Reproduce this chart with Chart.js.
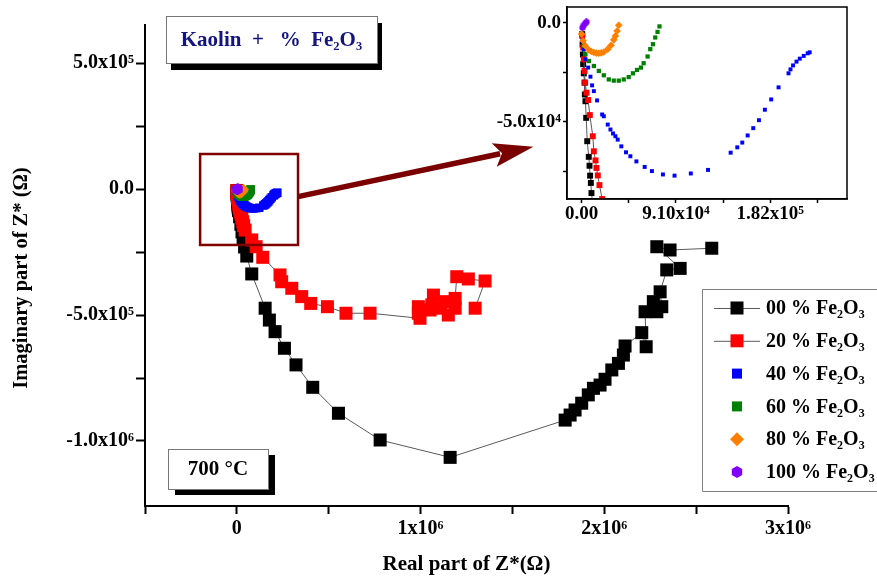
<!DOCTYPE html>
<html>
<head>
<meta charset="utf-8">
<script src="https://cdn.jsdelivr.net/npm/chart.js@4.4.0/dist/chart.umd.min.js"></script>
<style>
  html, body { margin: 0; padding: 0; background: #fff; }
  #wrap { position: relative; width: 877px; height: 581px; overflow: hidden; }
  #main { position: absolute; left: 0; top: 0; }
  #inset { position: absolute; left: 470px; top: 0; }
</style>
</head>
<body>
<div id="wrap">
  <canvas id="main" width="877" height="581"></canvas>
  <canvas id="inset" width="400" height="230"></canvas>
</div>
<script>
// series labels
var labels = ['00 % Fe\u2082O\u2083', '20 % Fe\u2082O\u2083', '40 % Fe\u2082O\u2083',
              '60 % Fe\u2082O\u2083', '80 % Fe\u2082O\u2083', '100 % Fe\u2082O\u2083'];

// real / imaginary parts (ohm)
var re00 = [700, 1000, 1300, 1600, 2200, 2900, 3200, 3800, 4500, 5500, 7000, 7700, 8300, 9000, 9600,
            15000, 22000, 28000, 34000, 42000, 54000, 81000, 154000, 177000, 208000, 259000, 322000,
            413000, 553000, 780000, 1161000, 1787000, 1814000, 1841000, 1877000, 1913000, 1941000,
            1977000, 2004000, 2041000, 2077000, 2104000, 2113000, 2204000, 2228000, 2222000, 2286000,
            2267000, 2313000, 2304000, 2340000, 2413000, 2286000, 2358000, 2585000];
var im00 = [-5700, -11000, -16000, -20900, -25500, -30200, -36200, -39600, -48000, -59800, -67700, -72200, -77200, -80900, -86000,
            -110000, -140000, -170000, -200000, -230000, -266000, -337000, -473000, -520000, -566000, -632000, -698000,
            -787000, -890000, -996000, -1065000, -917000, -897000, -877000, -850000, -817000, -791000,
            -778000, -755000, -718000, -692000, -659000, -623000, -570000, -626000, -487000, -487000,
            -447000, -467000, -408000, -321000, -315000, -229000, -242000, -235000];

var re20 = [700, 1600, 2200, 2900, 3500, 4800, 6400, 8000, 10900, 11900, 13500, 14400, 15700, 17300, 19900,
            23000, 27000, 32000, 37000, 45000, 81000, 105000, 141000, 235000, 244000, 299000, 353000, 402000,
            493000, 594000, 725000, 997000, 988000, 988000, 1052000, 1061000, 1070000, 1106000, 1133000,
            1151000, 1188000, 1188000, 1197000, 1260000, 1351000, 1297000];
var im20 = [-6600, -12500, -18400, -24300, -30200, -35300, -39000, -46600, -57300, -64900, -69500, -73300, -77100, -82000, -89000,
            -100000, -115000, -130000, -145000, -163000, -202000, -229000, -271000, -341000, -368000, -394000, -427000, -454000,
            -467000, -493000, -493000, -513000, -493000, -467000, -480000, -460000, -421000, -473000, -447000,
            -500000, -473000, -434000, -348000, -357000, -365000, -473000];

var re40 = [0, 1000, 2200, 3800, 6400, 8600, 10200, 11900, 15000, 19900, 21500, 25300, 27900, 30400, 32700,
            34900, 38400, 42900, 47100, 52900, 60900, 67900, 78500, 89700, 105400, 122000, 143800, 150200,
            155000, 160200, 165600, 171100, 176800, 182900, 190000, 199600, 201500, 204000, 207300, 210500,
            214300, 218100, 220000];
var im40 = [-5700, -9000, -13300, -18400, -22600, -27200, -31600, -34500, -39200, -46300, -47200, -51400, -53900, -55900, -57300,
            -59000, -62400, -65400, -67400, -70000, -72800, -74900, -76600, -77200, -76100, -74300, -65600, -62900,
            -60500, -56900, -53200, -49200, -43900, -38700, -32600, -25500, -23500, -21500, -19600, -18100,
            -16700, -15400, -14900];

var re60 = [0, 1600, 3800, 7100, 11900, 16700, 21500, 26300, 31100, 35900, 40700, 45500, 49600, 53500,
            57300, 59900, 63700, 66300, 68900, 71100, 73300, 75200];
var im60 = [-5700, -11700, -15900, -19300, -21800, -24300, -26500, -28600, -29200, -29200, -28600, -27400, -25500, -23800,
            -22600, -20400, -17000, -13300, -10800, -7400, -4600, -1800];

var re80 = [0, 1600, 3800, 7100, 9500, 11900, 14300, 16700, 19100, 21500, 25300, 28500, 31100, 32700, 34300, 35900];
var im80 = [-5700, -9100, -11700, -13700, -14500, -15000, -15300, -15400, -15200, -14700, -13300, -11300, -8600, -6600, -4100, -1200];

var re100 = [1000, 2200, 3500, 4800];
var im100 = [-2500, -1200, -300, 500];

var colors = ['#000000', '#ff0000', '#0000ff', '#008000', '#ff8000', '#8000ff'];

// main axes
var xMin = -5e5, xMax = 3e6;
var yMin = -1.258e6, yMax = 6.51e5;
var xTicks = [-5e5, 0, 5e5, 1e6, 1.5e6, 2e6, 2.5e6, 3e6];
var xTickLabels = ['', '0', '', '1x10\u2076', '', '2x10\u2076', '', '3x10\u2076'];
var yTicks = [-1e6, -7.5e5, -5e5, -2.5e5, 0, 2.5e5, 5e5];
var yTickLabels = ['-1.0x10\u2076', '', '-5.0x10\u2075', '', '0.0', '', '5.0x10\u2075'];

// inset axes
var inXMin = -14000, inXMax = 256000;
var inYMin = -89000, inYMax = 8000;
var inXTicks = [0, 45500, 91000, 136500, 182000, 227500];
var inXTickLabels = ['0.00', '', '9.10x10\u2074', '', '1.82x10\u2075', ''];
var inYTicks = [-75000, -50000, -25000, 0];
var inYTickLabels = ['', '-5.0x10\u2074', '', '0.0'];

var serif = "'Liberation Serif', 'Times New Roman', serif";
Chart.defaults.font.family = serif;
Chart.defaults.color = '#000';

var series = [
    { re: re00, im: im00, style: 'rect', line: true },
    { re: re20, im: im20, style: 'rect', line: true },
    { re: re40, im: im40, style: 'rect', line: false },
    { re: re60, im: im60, style: 'rect', line: false },
    { re: re80, im: im80, style: 'rectRot', line: false },
    { re: re100, im: im100, style: 'hex', line: false }
];
var mainSize = [9.2, 9.2, 6, 6.2, 5.5, 11];
var insetSize = [4.2, 4.2, 2.8, 3, 3.8, 7];

function hexPath(g, cx, cy, r) {
    g.beginPath();
    for (var k = 0; k < 6; k++) {
        var a = Math.PI / 180 * (60 * k - 90);
        g.lineTo(cx + r * Math.cos(a), cy + r * Math.sin(a));
    }
    g.closePath();
}

function hexImage(size, color) {
    var c = document.createElement('canvas');
    c.width = size; c.height = size;
    var g = c.getContext('2d');
    g.fillStyle = color;
    hexPath(g, size / 2, size / 2, size / 2);
    g.fill();
    return c;
}

function makeDatasets(sizes) {
    return series.map(function (s, i) {
        return {
            label: labels[i],
            data: s.re.map(function (x, j) { return { x: x, y: s.im[j] }; }),
            showLine: s.line,
            borderColor: '#5a5a5a',
            borderWidth: 1,
            pointStyle: s.style === 'hex' ? hexImage(sizes[i], colors[i]) : s.style,
            pointRadius: sizes[i],
            pointHoverRadius: sizes[i],
            pointBackgroundColor: colors[i],
            pointBorderWidth: 0,
            order: series.length - i
        };
    });
}

// annotation geometry
var zoomBox = { x0: -2.0e5, x1: 3.33e5, y0: -2.22e5, y1: 1.39e5 };
var arrow = { x0: 3.33e5, y0: -3.0e4, x1: 1.614e6, y1: 1.68e5 };
var legendBox = { left: 702, top: 289, bottom: 491, firstRow: 308, rowGap: 32.8, markX: 737, lineFrom: 714, lineTo: 760, textX: 766 };
var legendMark = [13, 13, 10, 10, 14, 12];

function shadowBox(ctx, x, y, w, h, dx, dy, text, color, size) {
    ctx.fillStyle = '#000';
    ctx.fillRect(x + dx, y + dy, w, h);
    ctx.fillStyle = '#fff';
    ctx.fillRect(x, y, w, h);
    ctx.strokeStyle = '#777';
    ctx.lineWidth = 1;
    ctx.strokeRect(x + 0.5, y + 0.5, w, h);
    ctx.fillStyle = color;
    ctx.font = 'bold ' + size + 'px ' + serif;
    ctx.textAlign = 'center';
    ctx.textBaseline = 'middle';
    ctx.fillText(text, x + w / 2, y + h / 2 + 1);
}

var decorPlugin = {
    id: 'decor',
    afterDraw: function (chart) {
        var ctx = chart.ctx, xs = chart.scales.x, ys = chart.scales.y;
        ctx.save();

        // zoom rectangle
        var bx0 = xs.getPixelForValue(zoomBox.x0), bx1 = xs.getPixelForValue(zoomBox.x1);
        var by0 = ys.getPixelForValue(zoomBox.y1), by1 = ys.getPixelForValue(zoomBox.y0);
        ctx.strokeStyle = '#800000';
        ctx.lineWidth = 2.5;
        ctx.strokeRect(bx0, by0, bx1 - bx0, by1 - by0);

        // arrow to the inset
        var ax0 = xs.getPixelForValue(arrow.x0), ay0 = ys.getPixelForValue(arrow.y0);
        var ax1 = xs.getPixelForValue(arrow.x1), ay1 = ys.getPixelForValue(arrow.y1);
        var ang = Math.atan2(ay1 - ay0, ax1 - ax0);
        var headLen = 40, headW = 12;
        var bxh = ax1 - headLen * Math.cos(ang), byh = ay1 - headLen * Math.sin(ang);
        ctx.strokeStyle = '#7b0000';
        ctx.fillStyle = '#7b0000';
        ctx.lineWidth = 5.5;
        ctx.beginPath();
        ctx.moveTo(ax0, ay0);
        ctx.lineTo(bxh + 6 * Math.cos(ang), byh + 6 * Math.sin(ang));
        ctx.stroke();
        ctx.beginPath();
        ctx.moveTo(ax1, ay1);
        ctx.lineTo(bxh - headW * Math.sin(ang), byh + headW * Math.cos(ang));
        ctx.lineTo(bxh + 8 * Math.cos(ang), byh + 8 * Math.sin(ang));
        ctx.lineTo(bxh + headW * Math.sin(ang), byh - headW * Math.cos(ang));
        ctx.closePath();
        ctx.fill();

        // text boxes
        shadowBox(ctx, 166, 16, 211, 47, 5, 7, 'Kaolin  +   %  Fe\u2082O\u2083', '#141482', 21);
        shadowBox(ctx, 168, 449, 100, 40, 7, 6, '700 \u00b0C', '#000', 21);

        // y axis title
        ctx.save();
        ctx.translate(22, 278);
        ctx.rotate(-Math.PI / 2);
        ctx.fillStyle = '#000';
        ctx.font = 'bold 20.5px ' + serif;
        ctx.textAlign = 'center';
        ctx.textBaseline = 'middle';
        ctx.fillText('Imaginary part of Z* (\u03a9)', 0, 0);
        ctx.restore();

        // legend
        var L = legendBox;
        ctx.fillStyle = '#fff';
        ctx.fillRect(L.left, L.top, chart.width - L.left, L.bottom - L.top);
        ctx.strokeStyle = '#808080';
        ctx.lineWidth = 1;
        ctx.beginPath();
        ctx.moveTo(chart.width, L.top + 0.5);
        ctx.lineTo(L.left + 0.5, L.top + 0.5);
        ctx.lineTo(L.left + 0.5, L.bottom + 0.5);
        ctx.lineTo(chart.width, L.bottom + 0.5);
        ctx.stroke();
        ctx.font = 'bold 20px ' + serif;
        ctx.textAlign = 'left';
        ctx.textBaseline = 'middle';
        series.forEach(function (s, i) {
            var y = L.firstRow + i * L.rowGap, m = legendMark[i];
            if (s.line) {
                ctx.strokeStyle = '#5a5a5a';
                ctx.lineWidth = 1;
                ctx.beginPath();
                ctx.moveTo(L.lineFrom, y + 0.5);
                ctx.lineTo(L.lineTo, y + 0.5);
                ctx.stroke();
            }
            ctx.fillStyle = colors[i];
            if (s.style === 'rect') {
                ctx.fillRect(L.markX - m / 2, y - m / 2, m, m);
            } else if (s.style === 'rectRot') {
                ctx.beginPath();
                ctx.moveTo(L.markX, y - m / 2);
                ctx.lineTo(L.markX + m / 2, y);
                ctx.lineTo(L.markX, y + m / 2);
                ctx.lineTo(L.markX - m / 2, y);
                ctx.closePath();
                ctx.fill();
            } else {
                hexPath(ctx, L.markX, y, m / 2);
                ctx.fill();
            }
            ctx.fillStyle = '#000';
            ctx.fillText(labels[i], L.textX, y + 1);
        });

        ctx.restore();
    }
};

var tickFont = { size: 20, weight: 'bold', family: serif };

var mainChart = new Chart(document.getElementById('main'), {
    type: 'scatter',
    data: { datasets: makeDatasets(mainSize) },
    options: {
        responsive: false,
        animation: false,
        layout: { padding: { top: 25, right: 89, left: 0, bottom: 0 } },
        plugins: { legend: { display: false }, tooltip: { enabled: false } },
        scales: {
            x: {
                type: 'linear', min: xMin, max: xMax,
                afterBuildTicks: function (s) { s.ticks = xTicks.map(function (v) { return { value: v }; }); },
                afterFit: function (s) { s.height = 75; s.paddingLeft = 0; s.paddingRight = 0; },
                grid: { drawOnChartArea: false, tickLength: 8, tickWidth: 2, tickColor: '#000' },
                border: { color: '#000', width: 2 },
                ticks: {
                    autoSkip: false, maxRotation: 0, padding: 3, color: '#000', font: tickFont,
                    callback: function (v, i) { return xTickLabels[i]; }
                },
                title: {
                    display: true, text: 'Real part of Z*(\u03a9)', color: '#000',
                    font: { size: 21, weight: 'bold', family: serif }, padding: { top: 0, bottom: 4 }
                }
            },
            y: {
                type: 'linear', min: yMin, max: yMax,
                afterBuildTicks: function (s) { s.ticks = yTicks.map(function (v) { return { value: v }; }); },
                afterFit: function (s) { s.width = 145; s.paddingTop = 0; s.paddingBottom = 0; },
                grid: { drawOnChartArea: false, tickLength: 9, tickWidth: 2, tickColor: '#000' },
                border: { color: '#000', width: 2 },
                ticks: {
                    autoSkip: false, padding: 2, color: '#000', font: tickFont,
                    callback: function (v, i) { return yTickLabels[i]; }
                }
            }
        }
    },
    plugins: [decorPlugin]
});

var insetFrame = {
    id: 'insetFrame',
    beforeDraw: function (chart) {
        var a = chart.chartArea, ctx = chart.ctx;
        ctx.save();
        ctx.fillStyle = '#fff';
        ctx.fillRect(a.left, a.top, a.right - a.left, a.bottom - a.top);
        ctx.restore();
    },
    afterDraw: function (chart) {
        var a = chart.chartArea, ctx = chart.ctx;
        ctx.save();
        ctx.strokeStyle = '#000';
        ctx.lineWidth = 1.5;
        ctx.strokeRect(a.left, a.top, a.right - a.left, a.bottom - a.top);
        ctx.restore();
    }
};

var insetFont = { size: 19, weight: 'bold', family: serif };

var insetChart = new Chart(document.getElementById('inset'), {
    type: 'scatter',
    data: { datasets: makeDatasets(insetSize) },
    options: {
        responsive: false,
        animation: false,
        layout: { padding: { top: 7, right: 23, left: 0, bottom: 0 } },
        plugins: { legend: { display: false }, tooltip: { enabled: false } },
        scales: {
            x: {
                type: 'linear', min: inXMin, max: inXMax,
                afterBuildTicks: function (s) { s.ticks = inXTicks.map(function (v) { return { value: v }; }); },
                afterFit: function (s) { s.height = 31; s.paddingLeft = 0; s.paddingRight = 0; },
                grid: { drawOnChartArea: false, tickLength: 4, tickWidth: 1.5, tickColor: '#000' },
                border: { color: '#000', width: 1.5 },
                ticks: {
                    autoSkip: false, maxRotation: 0, padding: 0, color: '#000', font: insetFont,
                    callback: function (v, i) { return inXTickLabels[i]; }
                }
            },
            y: {
                type: 'linear', min: inYMin, max: inYMax,
                afterBuildTicks: function (s) { s.ticks = inYTicks.map(function (v) { return { value: v }; }); },
                afterFit: function (s) { s.width = 97; s.paddingTop = 0; s.paddingBottom = 0; },
                grid: { drawOnChartArea: false, tickLength: 4, tickWidth: 1.5, tickColor: '#000' },
                border: { color: '#000', width: 1.5 },
                ticks: {
                    autoSkip: false, padding: 2, color: '#000', font: insetFont,
                    callback: function (v, i) { return inYTickLabels[i]; }
                }
            }
        }
    },
    plugins: [insetFrame]
});
</script>
</body>
</html>
